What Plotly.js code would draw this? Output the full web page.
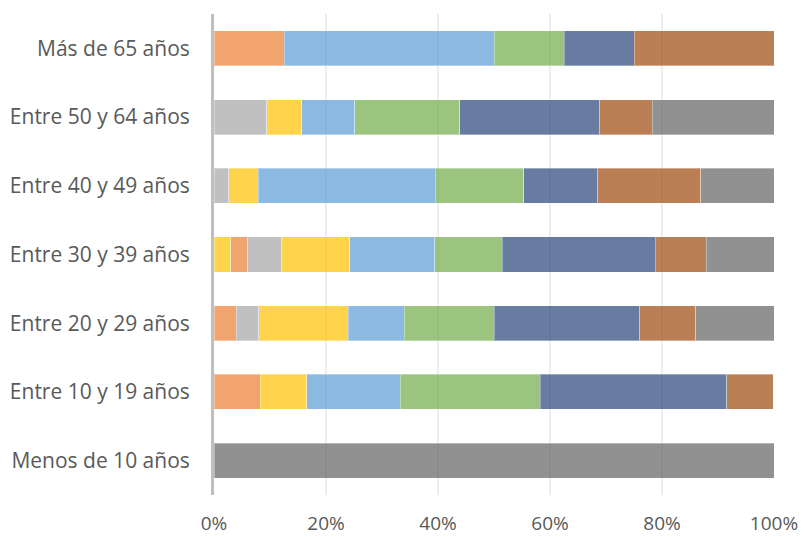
<!DOCTYPE html>
<html>
<head>
<meta charset="utf-8">
<script src="https://cdn.plot.ly/plotly-3.0.1.min.js"></script>
<style>html,body{margin:0;padding:0;background:#fff;}#chart{width:805px;height:537px;}</style>
</head>
<body>
<div id="chart"></div>
<script>
// Age groups (bottom to top)
const categories = ['Menos de 10 años','Entre 10 y 19 años','Entre 20 y 29 años','Entre 30 y 39 años','Entre 40 y 49 años','Entre 50 y 64 años','Más de 65 años'];
// Percent shares per series
const serieA = [0, 0, 0, 3.0, 0, 0, 0];
const serieB = [0, 8.3, 4, 3.0, 0, 0, 12.5];
const serieC = [0, 0, 4, 6.1, 2.6, 9.4, 0];
const serieD = [0, 8.3, 16, 12.1, 5.3, 6.3, 0];
const serieE = [0, 16.7, 10, 15.2, 31.6, 9.4, 37.5];
const serieF = [0, 25, 16, 12.1, 15.8, 18.8, 12.5];
const serieG = [0, 33.3, 26, 27.3, 13.2, 25, 12.5];
const serieH = [0, 8.3, 10, 9.1, 18.4, 9.4, 25];
const serieI = [100, 0, 14, 12.1, 13.2, 21.9, 0];
const tickVals = [0, 20, 40, 60, 80, 100];
const tickText = ['0%', '20%', '40%', '60%', '80%', '100%'];

const seriesList = [
  {name: 'Serie A', v: serieA, c: 'rgba(255,192,0,0.7)'},
  {name: 'Serie B', v: serieB, c: 'rgba(237,125,49,0.7)'},
  {name: 'Serie C', v: serieC, c: 'rgba(165,165,165,0.7)'},
  {name: 'Serie D', v: serieD, c: 'rgba(255,192,0,0.7)'},
  {name: 'Serie E', v: serieE, c: 'rgba(91,155,213,0.7)'},
  {name: 'Serie F', v: serieF, c: 'rgba(112,173,71,0.7)'},
  {name: 'Serie G', v: serieG, c: 'rgba(38,68,120,0.7)'},
  {name: 'Serie H', v: serieH, c: 'rgba(158,72,14,0.7)'},
  {name: 'Serie I', v: serieI, c: 'rgba(99,99,99,0.7)'}
];

const traces = seriesList.map(s => ({
  type: 'bar',
  orientation: 'h',
  name: s.name,
  y: categories,
  x: s.v,
  marker: {color: s.c, line: {color: 'rgba(255,255,255,0.35)', width: 1}},
  hoverinfo: 'skip'
}));

const layout = {
  width: 805,
  height: 537,
  barmode: 'stack',
  bargap: 0.49,
  showlegend: false,
  paper_bgcolor: '#ffffff',
  plot_bgcolor: '#ffffff',
  margin: {l: 214, r: 31, t: 14, b: 42},
  font: {family: 'Open Sans, Noto Sans, sans-serif', color: '#595959'},
  xaxis: {
    range: [0, 100],
    tickvals: tickVals,
    ticktext: tickText,
    showgrid: true,
    gridcolor: '#EDEDED',
    gridwidth: 1.5,
    zeroline: false,
    showline: false,
    ticks: '',
    ticklabelstandoff: 15,
    tickfont: {size: 19, color: '#595959'},
    fixedrange: true
  },
  yaxis: {
    type: 'category',
    categoryorder: 'array',
    categoryarray: categories,
    showgrid: false,
    zeroline: false,
    showline: true,
    linecolor: '#BFBFBF',
    linewidth: 3,
    ticks: '',
    ticklabelstandoff: 17,
    tickfont: {size: 21, color: '#595959'},
    fixedrange: true
  }
};

Plotly.newPlot('chart', traces, layout, {displayModeBar: false, staticPlot: true});
</script>
</body>
</html>
